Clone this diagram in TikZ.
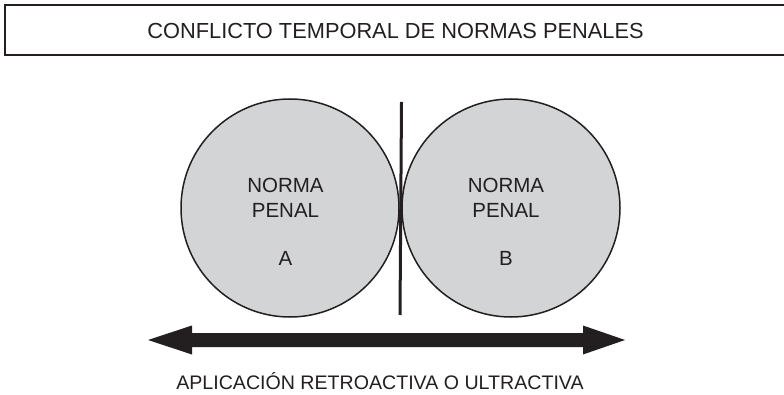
\documentclass[tikz,border=0pt]{standalone}
\usepackage{fontspec}
\setmainfont{Liberation Sans}
\definecolor{circfill}{RGB}{211,212,214}
\definecolor{ink}{RGB}{35,31,32}
\begin{document}
\begin{tikzpicture}[x=1pt,y=-1pt,
  lbl/.style={font=\fontsize{20.5}{25}\selectfont, text=ink, inner sep=0pt},
  circ/.style={circle, draw=ink, line width=1.5pt, fill=circfill, minimum size=218pt, inner sep=0pt}]
\useasboundingbox (0,0) rectangle (784,395);
\clip (0,0) rectangle (784,395);
\fill[white] (0,0) rectangle (784,395);
% title box
\draw[ink, line width=2.5pt] (800,5) -- (5,5) -- (5,55) -- (800,55);
\node[lbl, font=\fontsize{21.8}{25}\selectfont] (title) at (395.5,31) {CONFLICTO TEMPORAL DE NORMAS PENALES};
% circles
\node[circ] (A) at (290,208) {};
\node[circ] (B) at (511,208) {};
\node[lbl, align=center] (tA) at (285.5,198) {NORMA\\PENAL};
\node[lbl] (lA) at (285.5,258) {A};
\node[lbl, align=center] (tB) at (506,198) {NORMA\\PENAL};
\node[lbl] (lB) at (506,258) {B};
% vertical divider
\coordinate (vt) at (401.5,102);
\coordinate (vb) at (400,315);
\draw[ink, line width=3pt] (vt) -- (vb);
% double arrow
\coordinate (al) at (148,340);
\coordinate (ar) at (625,340);
\fill[ink] (al) -- (192,325.5) -- (192,333) -- (583,333) -- (583,325.5) -- (ar) -- (583,354.5) -- (583,347) -- (192,347) -- (192,354.5) -- cycle;
\node[lbl, font=\fontsize{19.6}{23}\selectfont] (cap) at (380,381) {APLICACIÓN RETROACTIVA O ULTRACTIVA};
\end{tikzpicture}
\end{document}
